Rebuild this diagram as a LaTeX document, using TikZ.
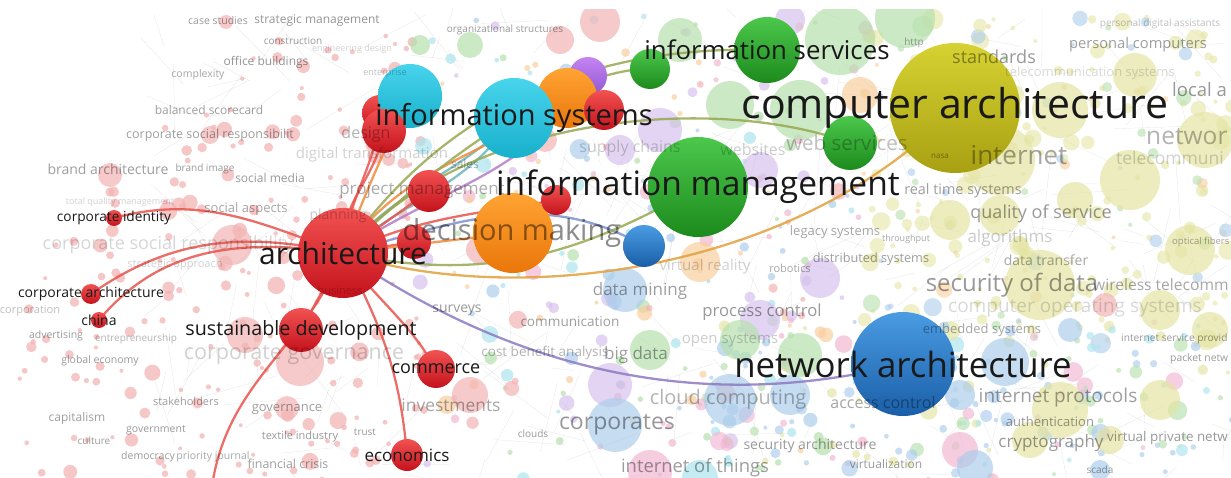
\documentclass[tikz,border=0pt]{standalone}
\usepackage{fontspec}
\setmainfont{Open Sans}
% node colours (top / bottom of the shading)
\definecolor{credT}{HTML}{F25252}\definecolor{credB}{HTML}{C4121C}
\definecolor{cgreenT}{HTML}{4CC84C}\definecolor{cgreenB}{HTML}{1C8A1C}
\definecolor{cblueT}{HTML}{4A9CE2}\definecolor{cblueB}{HTML}{1A5EA8}
\definecolor{cyellowT}{HTML}{D6D232}\definecolor{cyellowB}{HTML}{A8A012}
\definecolor{ccyanT}{HTML}{48D4EC}\definecolor{ccyanB}{HTML}{18B0CC}
\definecolor{corangeT}{HTML}{FFA434}\definecolor{corangeB}{HTML}{EA760A}
\definecolor{cpurpleT}{HTML}{C484F2}\definecolor{cpurpleB}{HTML}{9058D0}
% faded background colours
\definecolor{bgred}{HTML}{F2B4B4}
\definecolor{bggreen}{HTML}{B6E0AE}
\definecolor{bgblue}{HTML}{ACCDEB}
\definecolor{bgyellow}{HTML}{E4E4A4}
\definecolor{bgcyan}{HTML}{ACE4EE}
\definecolor{bgorange}{HTML}{F8CE9E}
\definecolor{bgpurple}{HTML}{D6C2EC}
\definecolor{bgpink}{HTML}{F2B6D2}
% link colours
\definecolor{lred}{HTML}{E9544C}
\definecolor{lteal}{HTML}{6FB4BC}
\definecolor{lorange}{HTML}{EE8A3C}
\definecolor{lolive}{HTML}{98A850}
\definecolor{lpurple}{HTML}{B27CC8}
\definecolor{lblue}{HTML}{7C92CC}
\definecolor{lcomp}{HTML}{E2A03C}
\definecolor{lnet}{HTML}{8C7AC2}

\begin{document}
\begin{tikzpicture}
[x=1pt,y=1pt,
  bubble/.style={circle,inner sep=0pt,draw=none},
  fadebub/.style={circle,inner sep=0pt,draw=none},
  keylab/.style={text=black!90,inner sep=0pt},
  fadelab/.style={text=black,inner sep=0pt},
  link/.style={line width=2.3pt,opacity=0.85}]
\useasboundingbox (0,0) rectangle (1231,-478);
\begin{scope}
\clip (0,-10) rectangle (1231,-478);
%% faint web
\pgfmathsetseed{5}
\foreach \k in {1,...,340}{
  \pgfmathsetmacro{\px}{150+1081*rnd}
  \pgfmathsetmacro{\py}{10+468*rnd}
  \pgfmathsetmacro{\ang}{360*rnd}
  \pgfmathsetmacro{\len}{20+60*rnd}
  \draw[black!35,line width=0.3pt,opacity=0.3] (\px,-\py) -- ++(\ang:\len);
}
%% faded circles, red cluster (top left corner stays empty)
\foreach \k in {1,...,260}{
  \pgfmathsetmacro{\px}{15+410*rnd}
  \pgfmathsetmacro{\py}{15+465*rnd}
  \pgfmathsetmacro{\pr}{2+8*rnd*rnd}
  \pgfmathparse{(\px+\py<290 || (\px<150 && \py<150)) ? 0 : 1}
  \ifnum\pgfmathresult=1
    \fill[bgred,opacity=0.75] (\px,-\py) circle[radius=\pr];
  \fi
}
%% faded circles, middle
\foreach \k in {1,...,240}{
  \pgfmathsetmacro{\px}{420+450*rnd}
  \pgfmathsetmacro{\py}{15+465*rnd}
  \pgfmathsetmacro{\pr}{2+9*rnd*rnd}
  \pgfmathrandominteger{\ci}{1}{7}
  \ifcase\ci\or\def\cc{bgpurple}\or\def\cc{bggreen}\or\def\cc{bgblue}\or
    \def\cc{bgcyan}\or\def\cc{bgpink}\or\def\cc{bgorange}\or\def\cc{bgred}\fi
  \fill[\cc,opacity=0.7] (\px,-\py) circle[radius=\pr];
}
%% faded circles, yellow cluster
\foreach \k in {1,...,230}{
  \pgfmathsetmacro{\px}{860+380*rnd}
  \pgfmathsetmacro{\py}{15+330*rnd}
  \pgfmathsetmacro{\pr}{2+10*rnd*rnd}
  \pgfmathrandominteger{\ci}{1}{8}
  \ifcase\ci\or\def\cc{bgyellow}\or\def\cc{bgyellow}\or\def\cc{bgyellow}\or
    \def\cc{bgyellow}\or\def\cc{bgyellow}\or\def\cc{bggreen}\or\def\cc{bgblue}\or\def\cc{bgorange}\fi
  \fill[\cc,opacity=0.6] (\px,-\py) circle[radius=\pr];
}
%% faded circles, blue corner
\foreach \k in {1,...,170}{
  \pgfmathsetmacro{\px}{700+540*rnd}
  \pgfmathsetmacro{\py}{320+160*rnd}
  \pgfmathsetmacro{\pr}{2+9*rnd*rnd}
  \pgfmathrandominteger{\ci}{1}{6}
  \ifcase\ci\or\def\cc{bgblue}\or\def\cc{bgblue}\or\def\cc{bgyellow}\or
    \def\cc{bgcyan}\or\def\cc{bgpink}\or\def\cc{bggreen}\fi
  \fill[\cc,opacity=0.65] (\px,-\py) circle[radius=\pr];
}
%% larger faded circles
\foreach \x/\y/\r/\col [count=\k] in {232/245/20/bgred, 300/362/24/bgred, 245/335/18/bgred,
  287/408/12/bgred, 470/395/18/bgred, 110/175/12/bgred, 210/135/9/bgred, 226/22/7/bgred,
  600/22/20/bgred, 560/40/14/bgred, 470/45/13/bggreen, 420/45/10/bggreen, 680/40/22/bggreen,
  730/105/24/bggreen, 800/110/30/bggreen, 840/40/35/bggreen, 905/18/30/bggreen, 860/95/18/bgorange,
  790/20/15/bgpurple, 660/130/22/bgpurple, 620/150/15/bgpurple, 760/170/18/bgpurple,
  625/290/22/bgblue, 610/385/22/bgpurple, 650/350/20/bggreen, 615/425/27/bgblue, 730/400/26/bgblue,
  790/395/20/bgblue, 650/472/22/bgpink, 700/478/18/bgcyan, 760/320/20/bgpurple, 700/262/20/bgorange,
  545/140/12/bgred, 740/340/20/bggreen, 800/355/22/bggreen, 820/278/20/bgpurple, 480/250/14/bgred,
  1000/160/35/bgyellow, 1060/110/28/bgyellow, 1135/75/22/bgyellow, 1205/140/28/bgyellow,
  1190/250/25/bgyellow, 1040/285/35/bgyellow, 1000/215/20/bgyellow, 1130/180/30/bgyellow,
  1075/200/18/bgyellow, 950/220/20/bgyellow, 1160/310/20/bgyellow, 1210/330/18/bgyellow,
  1005/362/24/bgblue, 960/395/15/bgblue, 1070/330/12/bgblue, 1060/410/28/bgyellow,
  1030/440/18/bgyellow, 960/450/18/bgpink, 975/468/18/bgblue, 1110/440/14/bgyellow,
  1100/470/10/bgblue, 1160/400/20/bgyellow, 1105/305/12/bgred} {
  \node[fadebub,fill=\col,opacity=0.7,minimum size=\r*2pt] (bg\k) at (\x,-\y) {};
}
\end{scope}
%% link ends outside the picture
\coordinate (lowend) at (213,-480);
%% links from architecture
\coordinate (archc) at (343,-253);
\draw[link,lred] (archc) to[out=160,in=15] (114,-218) coordinate (cie);
\draw[link,lred] (archc) to[out=168,in=35] (91,-294) coordinate (cae);
\draw[link,lred] (archc) to[out=172,in=50] (99,-320) coordinate (chne);
\draw[link,lred] (archc) -- (301,-330) coordinate (sde);
\draw[link,lred] (archc) to[out=-55,in=120] (436,-369) coordinate (come);
\draw[link,lred] (archc) to[out=-62,in=95] (407,-455) coordinate (ecoe);
\draw[link,lred] (archc) to[out=-112,in=80] (lowend);
\draw[link,lred] (archc) to[out=95,in=-100] (384,-131) coordinate (dsge);
\draw[link,lred] (archc) to[out=85,in=-95] (380,-113) coordinate (dsgBe);
\draw[link,lorange] (archc) to[out=70,in=-115] (410,-96) coordinate (cyle);
\draw[link,lteal] (archc) to[out=50,in=-135] (514,-118) coordinate (infsyse);
\draw[link,lteal] (archc) to[out=40,in=-125] (514,-118);
\draw[link,lorange] (archc) to[out=55,in=-145] (567,-98) coordinate (orne);
\draw[link,lpurple] (archc) to[out=35,in=-120] (588,-76) coordinate (pure);
\draw[link,lred] (archc) -- (429,-191) coordinate (pme);
\draw[link,lred] (archc) -- (414,-242) coordinate (rdme);
\draw[link,lorange] (archc) -- (513,-233) coordinate (dme);
\draw[link,lred] (archc) to[out=25,in=-170] (556,-200) coordinate (rime);
\draw[link,lblue] (archc) to[out=15,in=150] (644,-246) coordinate (blue);
\draw[link,lolive] (archc) to[out=-12,in=-150] (698,-187) coordinate (ime);
\draw[link,lolive] (archc) .. controls (470,-110) and (720,-95) .. (850,-143) coordinate (wse);
\draw[link,lolive] (archc) .. controls (450,-100) and (600,-45) .. (767,-50) coordinate (infsrve);
\draw[link,lolive] (archc) .. controls (480,-120) and (590,-68) .. (650,-69) coordinate (gsme);
\draw[link,lcomp] (archc) .. controls (520,-310) and (800,-270) .. (955,-108) coordinate (compe);
\draw[link,lnet] (archc) .. controls (470,-340) and (660,-425) .. (903,-364) coordinate (nete);
%% highlighted nodes
\foreach \name/\x/\y/\r/\col in {dsgB/380/113/18/cred, cyl/410/96/32/ccyan, dsg/384/131/22/cred,
  pur/588/76/19/cpurple, orn/567/98/30/corange, infsys/514/118/40/ccyan, rsys/604/110/20/cred,
  gsm/650/69/20/cgreen, infsrv/767/50/33/cgreen, pm/429/191/21/cred, dm/513/233/40/corange,
  rdm/414/242/17/cred, rim/556/200/15/cred, blu/644/246/21/cblue, im/698/187/50/cgreen,
  ws/850/143/27/cgreen, comp/955/108/65/cyellow, net/903/364/52/cblue, arch/343/253/45/cred,
  sd/301/330/22/cred, com/436/369/19/cred, eco/407/455/16/cred, ci/114/218/8/cred,
  ca/91/294/10/cred, chn/99/320/8/cred} {
  \node[bubble,top color=\col T,bottom color=\col B,minimum size=\r*2pt] (\name) at (\x,-\y) {};
}
%% faded labels
\foreach \txt/\x/\y/\fs/\g [count=\k] in {case studies/218/21/10.5/40, strategic management/317/21/12/42,
  construction/293/41/10/40, organizational structures/505/30/10/40, office buildings/266/62/12/42,
  complexity/198/75/10.5/35, enterprise/385/73/9/25, engineering design/352/49/9/18,
  balanced scorecard/209/110/12/38, corporate social responsibilit/210/135/12.5/38,
  brand architecture/108/169/14/38, brand image/205/169/10/40, social media/270/178/12/40,
  digital transformation/372/155/15/18, social aspects/246/209/13/35, planning/338/216/14/22,
  total quality management/120/202/9/18, design/366/134/16/30, project management/422/190/17/32,
  sales/465/164/12/30, corporate social responsibility/168/245/18/16, strategic approach/175/265/11/18,
  business/340/290/11/18, corporation/30/311/11/25, advertising/56/336/10.5/40, entrepreneurship/136/339/10/30,
  global economy/100/361/10.5/40, corporate governance/294/355/21.5/18, stakeholders/186/401/11/38,
  governance/287/410/13/38, capitalism/77/418/12/38, government/156/430/10.5/40,
  textile industry/300/437/11/40, trust/365/432/10/40, culture/94/441/10/40, democracy/148/457/10.5/40,
  priority journal/213/457/10.5/35, financial crisis/288/464/12.4/38, investments/451/405/17.4/35,
  surveys/457/310/14/40, communication/570/322/13.6/38, cost benefit analysis/545/353/13.5/30,
  big data/636/355/17/38, data mining/640/291/17/38, clouds/533/434/10/40, corporates/617/425/23/40,
  internet of things/695/468/18.4/38, cloud computing/728/399/20/30, security architecture/810/446/14/40,
  virtualization/886/464/12/40, access control/883/402/16/35, process control/762/312/16.7/40,
  open systems/730/340/15/20, virtual reality/705/267/15/18, robotics/790/268/11/35,
  distributed systems/871/259/12.7/38, legacy systems/835/232/13/35, real time systems/963/191/14.4/38,
  throughput/906/239/9/35, algorithms/1010/238/17/20, quality of service/1041/214/18/40,
  internet/1019/155/26/35, nasa/940/156/8/38, web services/847/143/20.5/25, websites/753/150/16/20,
  supply chains/630/148/16/20, decision making/512/233/29/45, standards/994/57/18/40, http/914/43/10/35,
  personal computers/1138/45/14.7/38, personal digital assistants/1160/24/10/25,
  telecommunication systems/1090/73/13/15, data transfer/1046/260/14/35, security of data/1012/285/24/40,
  computer operating systems/1075/308/19/15, embedded systems/982/330/13/35,
  internet protocols/1058/398/19/38, authentication/1050/422/13/40, cryptography/1051/443/17/40,
  scada/1100/470/10/40} {
  \node[fadelab,text opacity=\g/100,font=\fontsize{\fs}{\fs}\selectfont] (fl\k) at (\x,-\y) {\txt};
}
%% faded labels cut by the right edge
\foreach \txt/\x/\y/\fs/\g [count=\k] in {local a/1172/90/18.5/40, networ/1146/137/24.5/30,
  telecommuni/1116/158/17.5/18, optical fibers/1172/242/9.5/35, wireless telecomm/1093/285/15.6/35,
  internet service provid/1121/339/10.2/40, packet netw/1170/359/10.3/40,
  virtual private netw/1107/438/13.4/40} {
  \node[fadelab,anchor=west,text opacity=\g/100,font=\fontsize{\fs}{\fs}\selectfont] (fr\k) at (\x,-\y) {\txt};
}
%% labels of highlighted nodes
\foreach \name/\txt/\fs in {arch/architecture/30, infsys/information systems/29,
  im/information management/33.6, comp/computer architecture/41, net/network architecture/34.8,
  infsrv/information services/25.8, sd/sustainable development/19.7, com/commerce/18,
  eco/economics/17, ci/corporate identity/13.7, ca/corporate architecture/14, chn/china/14} {
  \node[keylab,font=\fontsize{\fs}{\fs}\selectfont] (l-\name) at (\name) {\txt};
}
\end{tikzpicture}
\end{document}
